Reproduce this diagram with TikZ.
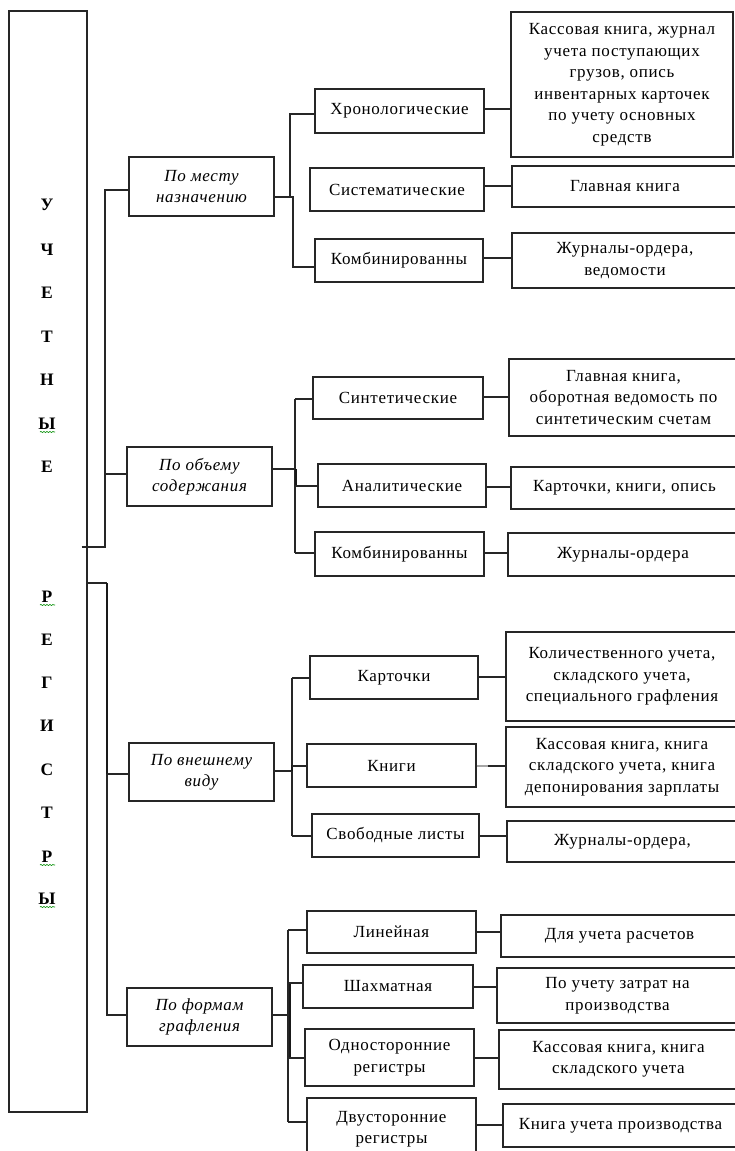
\documentclass[tikz,border=0pt]{standalone}
\usepackage{fontspec}
\setmainfont{Liberation Serif}[LetterSpace=4]
\usetikzlibrary{decorations.pathmorphing}

% box given by its corners: style, x1, y1, x2, y2, name, text
\newcommand\bx[7]{%
  \node[#1, minimum width={(#4-#2)*1pt}, minimum height={(#5-#3)*1pt}]
    (#6) at ({(#2+#4)/2},{(#3+#5)/2}) {#7};}

\tikzset{
  ln/.style={line width=1.2pt, draw=black!85},
  frame/.style={ln, draw, inner sep=1pt, align=center,
    font=\fontsize{17}{21.5}\selectfont},
  cat/.style={frame, font=\fontsize{17}{21}\selectfont\itshape},
  letter/.style={font=\fontsize{17.5}{20}\selectfont\bfseries, inner sep=0pt},
  bar/.style={line width=2.6pt, draw=black!90},
  squiggle/.style={draw=green!55!black, line width=0.6pt, decorate,
    decoration={snake, amplitude=0.6pt, segment length=3pt}},
}

\begin{document}
\begin{tikzpicture}[x=1pt, y=-1pt]
\path[use as bounding box, clip] (0,0) rectangle (735,1151);

% ---- main register column ----
\bx{frame}{9}{11}{87}{1112}{reg}{}
\foreach \ch/\yy [count=\i] in {У/205, Ч/250, Е/293, Т/337, Н/380, Ы/424, Е/467,
    Р/597, Е/640, Г/683, И/726, С/770, Т/813, Р/857, Ы/899}
  \node[letter] (ltr\i) at (47,\yy) {\ch};
\foreach \yy in {432, 605, 865, 907}
  \draw[squiggle] (40,\yy) -- (55,\yy);

% ---- categories ----
\bx{cat}{129}{157}{274}{216}{c1}{По месту\\назначению}
\bx{cat}{127}{447}{272}{506}{c2}{По объему\\содержания}
\bx{cat}{129}{743}{274}{801}{c3}{По внешнему\\виду}
\bx{cat}{127}{988}{272}{1046}{c4}{По формам\\графления}

% ---- group 1 ----
\bx{frame}{315}{89}{484}{133}{h1}{Хронологические}
\bx{frame}{310}{168}{484}{211}{h2}{Систематические}
\bx{frame}{315}{239}{483}{282}{h3}{Комбинированны}
\bx{frame}{511}{12}{733}{157}{r1}{Кассовая книга, журнал\\учета поступающих\\грузов, опись\\инвентарных карточек\\по учету основных\\средств}
\bx{frame}{512}{166}{738}{207}{r2}{Главная книга}
\bx{frame}{512}{233}{738}{288}{r3}{Журналы-ордера,\\ведомости}

% ---- group 2 ----
\bx{frame}{313}{377}{483}{419}{s1}{Синтетические}
\bx{frame}{318}{464}{486}{507}{s2}{Аналитические}
\bx{frame}{315}{532}{484}{576}{s3}{Комбинированны}
\bx{frame}{509}{359}{738}{436}{q1}{Главная книга,\\оборотная ведомость по\\синтетическим счетам}
\bx{frame}{511}{467}{738}{509}{q2}{Карточки, книги, опись}
\bx{frame}{508}{533}{738}{576}{q3}{Журналы-ордера}

% ---- group 3 ----
\bx{frame}{310}{656}{478}{699}{k1}{Карточки}
\bx{frame}{307}{744}{476}{787}{k2}{Книги}
\bx{frame}{312}{814}{479}{857}{k3}{Свободные листы}
\bx{frame}{506}{632}{738}{721}{p1}{Количественного учета,\\складского учета,\\специального графления}
\bx{frame}{506}{727}{738}{807}{p2}{Кассовая книга, книга\\складского учета, книга\\депонирования зарплаты}
\bx{frame}{507}{821}{738}{862}{p3}{Журналы-ордера,}

% ---- group 4 ----
\bx{frame}{307}{911}{476}{953}{g1}{Линейная}
\bx{frame}{303}{965}{473}{1008}{g2}{Шахматная}
\bx{frame}{305}{1029}{474}{1086}{g3}{Односторонние\\регистры}
\bx{frame}{307}{1098}{476}{1160}{g4}{Двусторонние\\регистры}
\bx{frame}{501}{915}{738}{957}{t1}{Для учета расчетов}
\bx{frame}{497}{968}{738}{1023}{t2}{По учету затрат на\\производства}
\bx{frame}{499}{1030}{738}{1089}{t3}{Кассовая книга, книга\\складского учета}
\bx{frame}{503}{1104}{738}{1147}{t4}{Книга учета производства}

% ---- trunk from the register column ----
\coordinate (jA) at (105,547);
\coordinate (jB) at (107,583);
\coordinate (jC) at (107,774);
\draw[ln] ([xshift=-6pt]reg.east |- jA) -- (jA) -- (105,190) -- (c1.west |- 0,190);
\draw[ln] (105,474) -- (c2.west |- 0,474);
\draw[line width=1.8pt, draw=black!85] (105,474) -- (jA);
\draw[ln] (reg.east |- jB) -- (jB);
\draw[bar] (jB) -- (jC);
\draw[ln] (jC) -- (c3.west |- jC);
\draw[ln] (jC) -- (107,1015) -- (c4.west |- 0,1015);

% ---- group 1 bracket ----
\coordinate (b1) at (293,197);
\draw[ln] (c1.east |- b1) -- (b1) -- (293,267) -- (h3.west |- 0,267);
\draw[ln] (290,197) -- (290,114) -- (h1.west |- 0,114);
\draw[ln] (h1.east |- 0,109) -- (r1.west |- 0,109);
\draw[ln] (h2.east |- 0,186) -- (r2.west |- 0,186);
\draw[ln] (h3.east |- 0,258) -- (r3.west |- 0,258);

% ---- group 2 bracket ----
\coordinate (b2) at (296,469);
\draw[ln] (c2.east |- b2) -- (b2);
\draw[ln] (295,399) -- (295,553);
\draw[bar] (b2) -- (296,487);
\draw[ln] (295,399) -- (s1.west |- 0,399);
\draw[ln] (295,486) -- (s2.west |- 0,486);
\draw[ln] (295,553) -- (s3.west |- 0,553);
\draw[ln] (s1.east |- 0,397) -- (q1.west |- 0,397);
\draw[ln] (s2.east |- 0,487) -- (q2.west |- 0,487);
\draw[ln] (s3.east |- 0,553) -- (q3.west |- 0,553);

% ---- group 3 bracket ----
\coordinate (b3) at (292,771);
\draw[ln] (c3.east |- b3) -- (b3);
\draw[ln] (292,678) -- (292,836);
\draw[bar] (292,765) -- (b3);
\draw[ln] (292,678) -- (k1.west |- 0,678);
\draw[ln] (292,766) -- (k2.west |- 0,766);
\draw[ln] (292,836) -- (k3.west |- 0,836);
\draw[ln] (k1.east |- 0,677) -- (p1.west |- 0,677);
\draw[ln, draw=black!35] (k2.east |- 0,766) -- (488,766);
\draw[ln] (488,766) -- (p2.west |- 0,766);
\draw[ln] (k3.east |- 0,836) -- (p3.west |- 0,836);

% ---- group 4 bracket ----
\coordinate (b4) at (289,1015);
\draw[ln] (c4.east |- b4) -- (b4);
\draw[ln] (288,930) -- (288,1122);
\draw[bar] (290,983) -- (290,1058);
\draw[ln] (288,930) -- (g1.west |- 0,930);
\draw[ln] (288,983) -- (g2.west |- 0,983);
\draw[ln] (288,1058) -- (g3.west |- 0,1058);
\draw[ln] (288,1122) -- (g4.west |- 0,1122);
\draw[ln] (g1.east |- 0,932) -- (t1.west |- 0,932);
\draw[ln] (g2.east |- 0,987) -- (t2.west |- 0,987);
\draw[ln] (g3.east |- 0,1058) -- (t3.west |- 0,1058);
\draw[ln] (g4.east |- 0,1125) -- (t4.west |- 0,1125);
\end{tikzpicture}
\end{document}
